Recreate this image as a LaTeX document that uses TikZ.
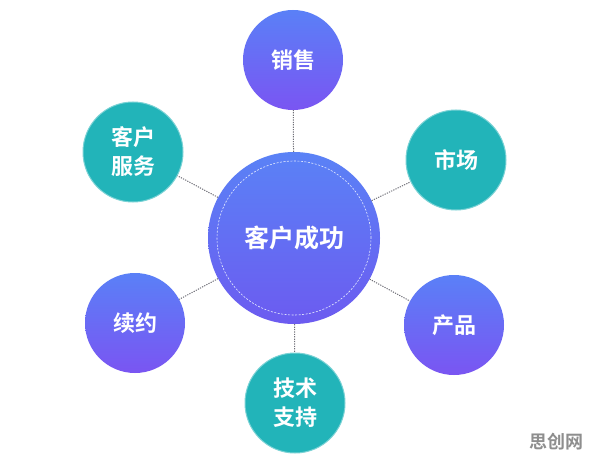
\documentclass[tikz,border=0pt]{standalone}
\usepackage{fontspec}
\newfontfamily\cjk{Noto Sans CJK SC}[BoldFont={Noto Sans CJK SC Bold}]
\definecolor{ptop}{HTML}{5A80F7}
\definecolor{pbot}{HTML}{7A55F2}
\definecolor{ctop}{HTML}{5A82F6}
\definecolor{cbot}{HTML}{6C5BF0}
\definecolor{teal}{HTML}{22B4B9}
\definecolor{lnk}{HTML}{707078}
\definecolor{wm}{HTML}{8E8E8E}
\begin{document}
\begin{tikzpicture}[x=1pt,y=-1pt,
  sat/.style={circle, minimum size=100pt, inner sep=0pt, align=center,
    text=white, font=\cjk\bfseries\fontsize{22}{29}\selectfont},
  purp/.style={sat, top color=ptop, bottom color=pbot, shading angle=0},
  tealc/.style={sat, fill=teal, draw=teal!60!white, line width=1pt},
  link/.style={draw=lnk, line width=1pt, dash pattern=on 1.2pt off 1.2pt}]
\useasboundingbox (0,0) rectangle (596,465);
\fill[white] (0,0) rectangle (596,465);
\node[circle, minimum size=172pt, inner sep=0pt, top color=ctop, bottom color=cbot,
  text=white, font=\cjk\bfseries\fontsize{25}{30}\selectfont] (c) at (294,238) {客户成功};
\node[circle, minimum size=154pt, inner sep=0pt, draw=white!85!ctop,
  dash pattern=on 2pt off 1.5pt, line width=0.6pt] (ci) at (294,238) {};
\node[purp] (s1) at (293,60) {销售};
\node[tealc] (s2) at (456,160) {市场};
\node[purp] (s3) at (454,325) {产品};
\node[tealc] (s4) at (295,403) {技术\\支持};
\node[purp] (s5) at (135,323) {续约};
\node[tealc] (s6) at (133,152) {客户\\服务};
\foreach \s in {s1,s2,s3,s4,s5,s6} \draw[link] (c) -- (\s);
\node[text=wm, font=\cjk\bfseries\fontsize{18}{20}\selectfont] (wm) at (556,442) {思创网};
\end{tikzpicture}
\end{document}
